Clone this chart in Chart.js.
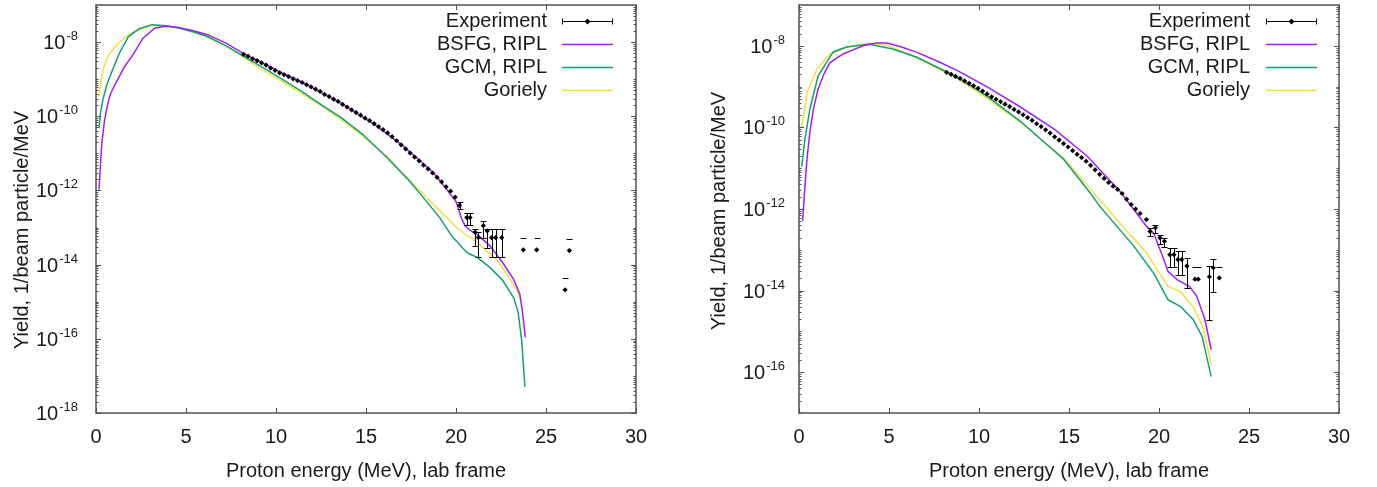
<!DOCTYPE html>
<html>
<head>
<meta charset="utf-8">
<title>Proton yield spectra</title>
<script src="https://cdn.jsdelivr.net/npm/chart.js@4.4.1/dist/chart.umd.min.js"></script>
<style>
  html, body { margin: 0; padding: 0; background: #fff; }
  #wrap { position: relative; width: 1377px; height: 487px; }
  canvas { position: absolute; top: 0; }
  #left { left: 0; }
  #right { left: 688px; }
</style>
</head>
<body>
<div id="wrap">
  <canvas id="left" width="688" height="487"></canvas>
  <canvas id="right" width="689" height="487"></canvas>
</div>
<script>
// energies in MeV, yields as log10(1/beam particle/MeV)
const legendLabels = ['Experiment', 'BSFG, RIPL', 'GCM, RIPL', 'Goriely'];
const xTickValues = [0, 5, 10, 15, 20, 25, 30];
const leftYLabelExps = [-18, -16, -14, -12, -10, -8];
const rightYLabelExps = [-16, -14, -12, -10, -8];

// ---- left panel ----
const leftBsfgE = [0.17, 0.25, 0.32, 0.45, 0.6, 0.8, 1.15, 1.6, 2.06, 2.6, 3.28, 3.9, 4.5, 5.3, 6.2, 7.2, 8.2, 9.2, 10.2, 11.3,
  12.4, 13.5, 14.5, 15.4, 16.2, 17.1, 18.0, 18.8, 19.5, 20.0, 20.3, 20.5, 20.8, 21.2, 21.9, 22.6, 23.2, 23.55, 23.7, 23.85];
const leftBsfgLog = [-11.97, -11.3, -10.75, -10.2, -9.78, -9.4, -9.06, -8.65, -8.34, -7.9, -7.62, -7.57, -7.6, -7.68, -7.8, -8.02, -8.31, -8.55, -8.8, -9.05,
  -9.33, -9.62, -9.92, -10.2, -10.48, -10.82, -11.2, -11.55, -11.98, -12.3, -12.75, -12.95, -13.08, -13.2, -13.5, -13.95, -14.4, -14.8, -15.3, -15.96];

const leftGcmE = [0.17, 0.25, 0.4, 0.6, 0.95, 1.3, 1.8, 2.4, 3.1, 3.9, 4.6, 5.4, 6.2, 7.3, 8.4, 9.4, 10.4, 11.4, 12.4, 13.6,
  14.8, 16.2, 17.4, 18.2, 19.1, 19.8, 20.5, 20.7, 21.2, 21.9, 22.6, 23.2, 23.45, 23.65, 23.83];
const leftGcmLog = [-10.32, -9.9, -9.52, -9.15, -8.71, -8.3, -7.85, -7.64, -7.53, -7.56, -7.62, -7.72, -7.85, -8.12, -8.44, -8.72, -9.02, -9.32, -9.65, -10.03,
  -10.48, -11.13, -11.74, -12.2, -12.74, -13.25, -13.62, -13.7, -13.81, -14.08, -14.43, -14.89, -15.28, -16.04, -17.3];

const leftGorE = [0.15, 0.4, 0.7, 1.15, 1.6, 2.1, 3.0, 3.9, 4.8, 6.0, 7.0, 8.0, 9.1, 10.3, 11.3, 12.4, 13.5, 14.8, 16.2, 17.4,
  18.2, 19.1, 20.05, 20.6, 20.95, 21.5, 22.3, 22.8, 23.4, 23.6];
const leftGorLog = [-9.46, -8.71, -8.35, -8.07, -7.88, -7.72, -7.56, -7.56, -7.65, -7.83, -8.05, -8.34, -8.71, -9.05, -9.35, -9.68, -10.05, -10.52, -11.1, -11.72,
  -12.1, -12.55, -13.0, -13.22, -13.3, -13.54, -13.89, -14.24, -14.7, -14.97];

const leftExpE = [8.2, 8.45, 8.7, 8.95, 9.2, 9.45, 9.7, 9.95, 10.2, 10.45, 10.7, 10.95, 11.2, 11.45, 11.7, 11.95, 12.2, 12.45, 12.7, 12.95,
  13.2, 13.45, 13.7, 13.95, 14.2, 14.45, 14.7, 14.95, 15.2, 15.45, 15.7, 15.95, 16.2, 16.45, 16.7, 16.95, 17.2, 17.45, 17.7, 17.95,
  18.2, 18.45, 18.7, 18.95, 19.2, 19.45, 19.7, 19.95];
const leftExpLog = [-8.33, -8.38, -8.45, -8.5, -8.56, -8.62, -8.7, -8.76, -8.83, -8.88, -8.93, -8.99, -9.04, -9.09, -9.15, -9.21, -9.27, -9.33, -9.41, -9.47,
  -9.54, -9.6, -9.68, -9.75, -9.83, -9.9, -9.97, -10.05, -10.12, -10.2, -10.28, -10.36, -10.45, -10.55, -10.66, -10.77, -10.88, -10.99, -11.1, -11.2,
  -11.32, -11.42, -11.53, -11.65, -11.77, -11.9, -12.02, -12.18];
// points drawn with error bars (null lower end: only the upper cap is shown)
const leftErrE = [20.2, 20.6, 20.78, 21.06, 21.24, 21.52, 21.74, 21.98, 22.2, 22.54, 23.74, 24.48, 26.06, 26.3];
const leftErrLog = [-12.4, -12.73, -12.73, -13.13, -13.27, -12.95, -13.09, -13.27, -13.27, -13.27, -13.6, -13.6, -14.68, -13.62];
const leftErrHi = [-12.32, -12.61, -12.61, -13.04, -13.13, -12.82, -13.04, -13.04, -13.04, -13.04, -13.28, -13.28, -14.37, -13.31];
const leftErrLo = [-12.5, -12.93, -12.93, -13.49, -13.8, -13.27, -13.54, -13.8, -13.8, -13.8, null, null, null, null];

// ---- right panel ----
const rightBsfgE = [0.2, 0.33, 0.45, 0.6, 0.8, 1.06, 1.4, 1.72, 2.45, 3.0, 3.56, 4.3, 4.9, 5.7, 6.55, 7.7, 8.8, 10.5, 12.3, 14.2,
  16.0, 17.8, 19.3, 19.7, 20.2, 20.5, 21.0, 21.7, 22.1, 22.55, 22.9];
const rightBsfgLog = [-12.3, -11.44, -10.75, -10.13, -9.55, -9.06, -8.68, -8.41, -8.2, -8.1, -8.0, -7.93, -7.93, -8.03, -8.16, -8.38, -8.61, -9.02, -9.5, -10.05,
  -10.7, -11.55, -12.42, -12.59, -13.16, -13.53, -13.73, -13.9, -14.14, -14.71, -15.45];

const rightGcmE = [0.15, 0.33, 0.6, 1.06, 1.9, 2.65, 3.9, 5.2, 6.55, 8.8, 10.5, 12.3, 14.7, 16.17, 16.7, 18.6, 19.7, 20.5, 21.2, 21.9, 22.4, 22.9];
const rightGcmLog = [-10.96, -10.29, -9.56, -8.74, -8.15, -8.03, -7.96, -8.08, -8.28, -8.77, -9.25, -9.85, -10.78, -11.6, -11.93, -12.91, -13.57, -14.22, -14.39, -14.71, -15.13, -16.11];

const rightGorE = [0.15, 0.45, 1.0, 1.72, 2.65, 3.9, 5.0, 6.55, 8.8, 10.5, 12.3, 14.7, 16.7, 17.8, 19.3, 20.5, 21.2, 21.9, 22.45, 22.9];
const rightGorLog = [-10.0, -9.14, -8.57, -8.2, -8.03, -7.93, -8.0, -8.3, -8.8, -9.3, -9.87, -10.75, -11.77, -12.33, -13.07, -13.9, -14.03, -14.4, -14.89, -15.82];

const rightExpE = [8.2, 8.45, 8.7, 8.95, 9.2, 9.45, 9.7, 9.95, 10.2, 10.45, 10.7, 10.95, 11.2, 11.45, 11.7, 11.95, 12.2, 12.45, 12.7, 12.95,
  13.2, 13.45, 13.7, 13.95, 14.2, 14.45, 14.7, 14.95, 15.2, 15.45, 15.7, 15.95, 16.2, 16.45, 16.7, 16.95, 17.2, 17.45, 17.7, 17.95,
  18.2, 18.45, 18.7, 18.95, 19.3];
const rightExpLog = [-8.65, -8.7, -8.75, -8.8, -8.86, -8.92, -8.98, -9.04, -9.11, -9.18, -9.25, -9.31, -9.37, -9.43, -9.49, -9.56, -9.62, -9.69, -9.76, -9.83,
  -9.91, -9.98, -10.06, -10.14, -10.23, -10.31, -10.4, -10.48, -10.57, -10.66, -10.74, -10.83, -10.93, -11.04, -11.15, -11.25, -11.35, -11.44, -11.52, -11.62,
  -11.76, -11.89, -12.0, -12.11, -12.26];
const rightErrE = [19.5, 19.8, 20.05, 20.3, 20.6, 20.83, 21.05, 21.26, 21.55, 22.0, 22.18, 22.8, 23.02, 23.35];
const rightErrLog = [-12.55, -12.46, -12.71, -12.79, -13.12, -13.12, -13.24, -13.24, -13.4, -13.72, -13.72, -13.66, -13.44, -13.69];
const rightErrHi = [-12.46, -12.38, -12.63, -12.7, -12.95, -12.95, -13.04, -13.04, -13.2, -13.41, -13.41, -13.4, -13.22, -13.41];
const rightErrLo = [-12.67, -12.58, -12.87, -12.93, -13.41, -13.41, -13.61, -13.61, -13.94, null, null, -14.71, -14.03, null];

const seriesColors = ['#000000', '#a020f0', '#0fa078', '#f0e040'];
const FONT = '"Liberation Sans", Arial, sans-serif';
const TEXT = '#1a1a1a';

Chart.defaults.font.family = FONT;

const toPts = (es, logs) => es.map((e, i) => ({ x: e, y: Math.pow(10, logs[i]) }));
const toErrPts = (es, logs, his, los) => es.map((e, i) => ({
  x: e,
  y: Math.pow(10, logs[i]),
  yHi: Math.pow(10, his[i]),
  yLo: los[i] === null ? null : Math.pow(10, los[i])
}));

// gnuplot-like frame, ticks, labels, legend and error bars
const gnuplotLook = {
  id: 'gnuplotLook',
  afterDatasetsDraw(chart) {
    const { ctx, scales: { x, y } } = chart;
    const ds = chart.data.datasets[0];
    ctx.save();
    ctx.strokeStyle = '#000';
    ctx.lineWidth = 1;
    ctx.beginPath();
    ds.data.forEach(p => {
      if (p.yHi === undefined) return;
      const px = Math.round(x.getPixelForValue(p.x)) + 0.5;
      const top = Math.round(y.getPixelForValue(p.yHi)) + 0.5;
      ctx.moveTo(px - 3, top); ctx.lineTo(px + 3, top);
      if (p.yLo !== null) {
        const bot = Math.round(y.getPixelForValue(p.yLo)) + 0.5;
        ctx.moveTo(px, top); ctx.lineTo(px, bot);
        ctx.moveTo(px - 3, bot); ctx.lineTo(px + 3, bot);
      }
    });
    ctx.stroke();
    ctx.restore();
  },
  afterDraw(chart, args, o) {
    const { ctx, chartArea: a, scales: { x, y } } = chart;
    ctx.save();

    // frame
    ctx.strokeStyle = '#505050';
    ctx.lineWidth = 1.5;
    ctx.strokeRect(a.left, a.top, a.right - a.left, a.bottom - a.top);

    // ticks (inward, mirrored)
    ctx.lineWidth = 1;
    ctx.beginPath();
    xTickValues.forEach(v => {
      const px = Math.round(x.getPixelForValue(v)) + 0.5;
      ctx.moveTo(px, a.bottom); ctx.lineTo(px, a.bottom - 5);
      ctx.moveTo(px, a.top); ctx.lineTo(px, a.top + 5);
    });
    for (let d = o.yMinExp; d < o.yMaxExp; d++) {
      for (let m = 1; m <= 9; m++) {
        const py = Math.round(y.getPixelForValue(m * Math.pow(10, d))) + 0.5;
        const len = (m === 1 && o.yLabels.includes(d)) ? 5 : 2.5;
        ctx.moveTo(a.left, py); ctx.lineTo(a.left + len, py);
        ctx.moveTo(a.right, py); ctx.lineTo(a.right - len, py);
      }
    }
    ctx.stroke();

    // y tick labels: 10 with superscript exponent
    ctx.fillStyle = TEXT;
    ctx.textBaseline = 'alphabetic';
    ctx.textAlign = 'right';
    o.yLabels.forEach(d => {
      const py = y.getPixelForValue(Math.pow(10, d));
      const xr = a.left - o.labelGap;
      ctx.font = '13px ' + FONT;
      const sup = String(d);
      const w = ctx.measureText(sup).width;
      ctx.fillText(sup, xr, py - 2);
      ctx.font = '20px ' + FONT;
      ctx.fillText('10', xr - w - 1, py + 7);
    });

    // axis titles
    ctx.font = '20px ' + FONT;
    ctx.textAlign = 'center';
    ctx.textBaseline = 'middle';
    ctx.fillText('Proton energy (MeV), lab frame', (a.left + a.right) / 2, o.xTitleY);
    ctx.save();
    ctx.translate(o.yTitleX, o.yTitleY);
    ctx.rotate(-Math.PI / 2);
    ctx.fillText('Yield, 1/beam particle/MeV', 0, 0);
    ctx.restore();

    // legend (text right-aligned, sample to its right)
    chart.data.datasets.forEach((ds, i) => {
      const ly = o.legendTop + i * o.legendStep;
      ctx.font = '20px ' + FONT;
      ctx.textAlign = 'right';
      ctx.textBaseline = 'middle';
      ctx.fillStyle = TEXT;
      ctx.fillText(ds.label, o.legendTextRight, ly);
      const yy = Math.round(ly) + 0.5;
      ctx.beginPath();
      ctx.moveTo(o.sampleLeft, yy); ctx.lineTo(o.sampleRight, yy);
      if (i === 0) {
        ctx.strokeStyle = '#000';
        ctx.lineWidth = 1;
        ctx.moveTo(o.sampleLeft + 0.5, yy - 3); ctx.lineTo(o.sampleLeft + 0.5, yy + 3);
        ctx.moveTo(o.sampleRight - 0.5, yy - 3); ctx.lineTo(o.sampleRight - 0.5, yy + 3);
        ctx.stroke();
        const cx = (o.sampleLeft + o.sampleRight) / 2;
        ctx.fillStyle = '#000';
        ctx.beginPath();
        ctx.moveTo(cx, yy - 3); ctx.lineTo(cx + 3, yy); ctx.lineTo(cx, yy + 3); ctx.lineTo(cx - 3, yy);
        ctx.closePath();
        ctx.fill();
      } else {
        ctx.strokeStyle = ds.borderColor;
        ctx.lineWidth = 1.5;
        ctx.stroke();
      }
    });
    ctx.restore();
  }
};

function makeChart(id, sets, geom) {
  const datasets = [
    {
      label: legendLabels[0],
      data: toPts(sets.expE, sets.expLog).concat(toErrPts(sets.errE, sets.errLog, sets.errHi, sets.errLo)),
      showLine: false,
      pointStyle: 'rectRot',
      pointRadius: 2.6,
      backgroundColor: seriesColors[0],
      borderColor: seriesColors[0],
      borderWidth: 0
    },
    { label: legendLabels[1], data: toPts(sets.bsfgE, sets.bsfgLog), borderColor: seriesColors[1] },
    { label: legendLabels[2], data: toPts(sets.gcmE, sets.gcmLog), borderColor: seriesColors[2] },
    { label: legendLabels[3], data: toPts(sets.gorE, sets.gorLog), borderColor: seriesColors[3] }
  ];
  datasets.slice(1).forEach(d => {
    d.pointRadius = 0;
    d.borderWidth = 1.5;
    d.tension = 0;
    d.fill = false;
  });

  return new Chart(document.getElementById(id), {
    type: 'line',
    data: { datasets },
    options: {
      responsive: false,
      animation: false,
      devicePixelRatio: 1,
      events: [],
      layout: { padding: { top: 5, right: geom.rightPad, left: 0, bottom: 0 } },
      scales: {
        x: {
          type: 'linear',
          min: 0,
          max: 30,
          afterBuildTicks: s => { s.ticks = xTickValues.map(v => ({ value: v })); },
          ticks: { font: { size: 20 }, color: TEXT, padding: 12, maxRotation: 0 },
          grid: { display: false, drawTicks: false },
          border: { display: false },
          afterFit: s => { s.height = 74; }
        },
        y: {
          type: 'logarithmic',
          min: Math.pow(10, geom.yMinExp),
          max: Math.pow(10, geom.yMaxExp),
          ticks: { display: false },
          grid: { display: false, drawTicks: false },
          border: { display: false },
          afterFit: s => { s.width = geom.yAxisWidth; }
        }
      },
      plugins: {
        legend: { display: false },
        tooltip: { enabled: false },
        gnuplotLook: geom
      }
    },
    plugins: [gnuplotLook]
  });
}

makeChart('left', {
  expE: leftExpE, expLog: leftExpLog,
  errE: leftErrE, errLog: leftErrLog, errHi: leftErrHi, errLo: leftErrLo,
  bsfgE: leftBsfgE, bsfgLog: leftBsfgLog,
  gcmE: leftGcmE, gcmLog: leftGcmLog,
  gorE: leftGorE, gorLog: leftGorLog
}, {
  yMinExp: -18, yMaxExp: -7, yLabels: leftYLabelExps,
  yAxisWidth: 96, rightPad: 52, labelGap: 18,
  xTitleY: 471, yTitleX: 22, yTitleY: 230,
  legendTop: 21, legendStep: 23, legendTextRight: 547, sampleLeft: 562, sampleRight: 613
});

makeChart('right', {
  expE: rightExpE, expLog: rightExpLog,
  errE: rightErrE, errLog: rightErrLog, errHi: rightErrHi, errLo: rightErrLo,
  bsfgE: rightBsfgE, bsfgLog: rightBsfgLog,
  gcmE: rightGcmE, gcmLog: rightGcmLog,
  gorE: rightGorE, gorLog: rightGorLog
}, {
  yMinExp: -17, yMaxExp: -7, yLabels: rightYLabelExps,
  yAxisWidth: 111, rightPad: 38, labelGap: 14,
  xTitleY: 471, yTitleX: 31, yTitleY: 211,
  legendTop: 21, legendStep: 23, legendTextRight: 562, sampleLeft: 578, sampleRight: 629
});
</script>
</body>
</html>
